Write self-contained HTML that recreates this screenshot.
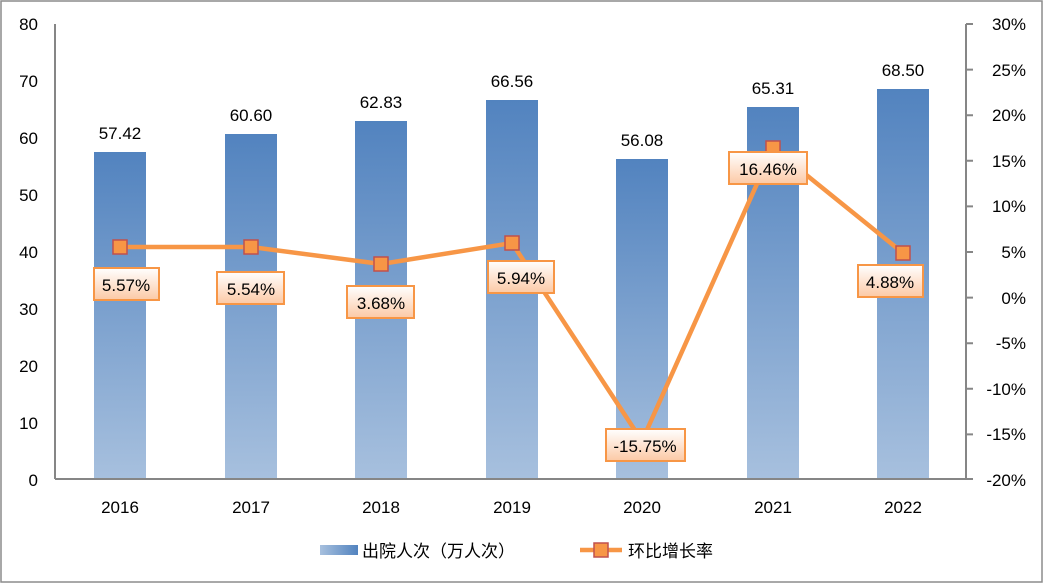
<!DOCTYPE html>
<html><head><meta charset="utf-8"><style>
body{margin:0;background:#fff}
svg text{font-family:"Liberation Sans","Noto Sans CJK SC",sans-serif;fill:#000}
</style></head><body>
<svg width="1043" height="583" viewBox="0 0 1043 583" xmlns="http://www.w3.org/2000/svg">
<defs>
<linearGradient id="bg" x1="0" y1="0" x2="0" y2="1"><stop offset="0" stop-color="#5283bf"/><stop offset="1" stop-color="#a7c0de"/></linearGradient>
<linearGradient id="lg" x1="0" y1="0" x2="0" y2="1"><stop offset="0" stop-color="#fff"/><stop offset="1" stop-color="#fcc9a5"/></linearGradient>
<linearGradient id="sw" x1="0" y1="0" x2="1" y2="0"><stop offset="0" stop-color="#a7c0de"/><stop offset="1" stop-color="#5283bf"/></linearGradient>
</defs>
<rect x="1" y="1" width="1041" height="581" fill="#fff" stroke="#8c8c8c" stroke-width="1.5"/>
<g font-size="17" text-anchor="end">
<text x="38" y="30">80</text><text x="38" y="87">70</text><text x="38" y="144">60</text><text x="38" y="201">50</text><text x="38" y="258">40</text><text x="38" y="315">30</text><text x="38" y="372">20</text><text x="38" y="429">10</text><text x="38" y="486">0</text>
</g>
<g font-size="17" text-anchor="end">
<text x="1026" y="30">30%</text><text x="1026" y="76">25%</text><text x="1026" y="121">20%</text><text x="1026" y="167">15%</text><text x="1026" y="212">10%</text><text x="1026" y="258">5%</text><text x="1026" y="304">0%</text><text x="1026" y="349">-5%</text><text x="1026" y="395">-10%</text><text x="1026" y="440">-15%</text><text x="1026" y="486">-20%</text>
</g>
<g fill="url(#bg)">
<rect x="94" y="152" width="52" height="327"/>
<rect x="225" y="134" width="52" height="345"/>
<rect x="355" y="121" width="52" height="358"/>
<rect x="486" y="100" width="52" height="379"/>
<rect x="616" y="159" width="52" height="320"/>
<rect x="747" y="107" width="52" height="372"/>
<rect x="877" y="89" width="52" height="390"/>
</g>
<g stroke="#868686" stroke-width="2" fill="none">
<line x1="55" y1="24" x2="55" y2="479"/>
<line x1="55" y1="479" x2="973" y2="479"/>
<line x1="966" y1="24" x2="966" y2="479"/>
<path d="M966 24h7M966 69.6h7M966 115.2h7M966 160.8h7M966 206.4h7M966 252h7M966 297.6h7M966 343.2h7M966 388.8h7M966 434.4h7"/>
</g>
<g font-size="17" text-anchor="middle">
<text x="120" y="139">57.42</text><text x="251" y="121">60.60</text><text x="381" y="108">62.83</text><text x="512" y="87">66.56</text><text x="642" y="146">56.08</text><text x="773" y="94">65.31</text><text x="903" y="76">68.50</text>
<text x="120" y="513">2016</text><text x="251" y="513">2017</text><text x="381" y="513">2018</text><text x="512" y="513">2019</text><text x="642" y="513">2020</text><text x="773" y="513">2021</text><text x="903" y="513">2022</text>
</g>
<polyline points="120,247 251,247 381,264 512,243 642,441 773,148 903,253" fill="none" stroke="#f79646" stroke-width="4.5" stroke-linejoin="round"/>
<g fill="#f79646" stroke="#c0504d" stroke-width="1.5">
<rect x="113" y="240" width="14" height="14"/><rect x="244" y="240" width="14" height="14"/><rect x="374" y="257" width="14" height="14"/><rect x="505" y="236" width="14" height="14"/><rect x="635" y="434" width="14" height="14"/><rect x="766" y="141" width="14" height="14"/><rect x="896" y="246" width="14" height="14"/>
</g>
<g fill="url(#lg)" stroke="#f79646" stroke-width="2">
<rect x="94" y="268" width="65" height="32"/>
<rect x="217" y="272" width="67" height="32"/>
<rect x="347" y="286" width="67" height="32"/>
<rect x="488" y="261" width="66" height="32"/>
<rect x="606" y="429" width="79" height="32"/>
<rect x="729" y="152" width="78" height="32"/>
<rect x="858" y="265" width="65" height="32"/>
</g>
<g font-size="17" text-anchor="middle">
<text x="126" y="291">5.57%</text><text x="251" y="295">5.54%</text><text x="381" y="309">3.68%</text><text x="521" y="284">5.94%</text><text x="645" y="452">-15.75%</text><text x="768" y="175">16.46%</text><text x="890" y="288">4.88%</text>
</g>
<rect x="320" y="545" width="38" height="10" fill="url(#sw)"/>
<text x="362" y="557" font-size="17">出院人次（万人次）</text>
<line x1="580" y1="550" x2="622" y2="550" stroke="#f79646" stroke-width="4.5"/>
<rect x="594" y="543" width="14" height="14" fill="#f79646" stroke="#c0504d" stroke-width="1.5"/>
<text x="628" y="557" font-size="17">环比增长率</text>
</svg>
</body></html>
